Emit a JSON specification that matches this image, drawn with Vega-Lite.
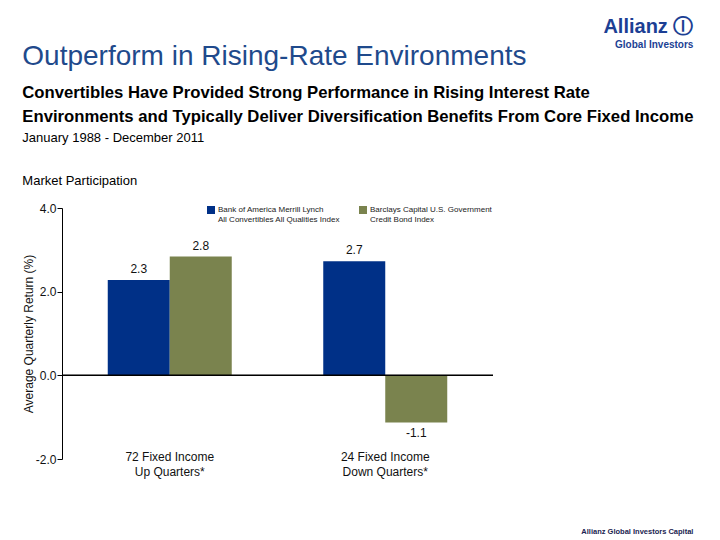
{
  "$schema": "https://vega.github.io/schema/vega-lite/v6.json",
  "padding": {"left": 22, "top": 17, "right": 22, "bottom": 2},
  "background": "white",
  "config": {
    "font": "Liberation Sans",
    "view": {"stroke": null},
    "concat": {"spacing": 0},
    "locale": {
      "number": {"decimal": ".", "thousands": ",", "grouping": [3], "currency": ["$", ""], "minus": "-"}
    }
  },
  "title": {
    "text": "Allianz Global Investors Capital",
    "orient": "bottom",
    "anchor": "end",
    "fontSize": 7.5,
    "fontWeight": "bold",
    "color": "#1a2350",
    "offset": 51
  },
  "vconcat": [
    {
      "title": {
        "text": "Allianz Ⓘ",
        "subtitle": "Global Investors",
        "anchor": "end",
        "fontSize": 20,
        "fontWeight": "bold",
        "color": "#1c3f94",
        "subtitleFontSize": 10,
        "subtitleFontWeight": "bold",
        "subtitleColor": "#1c3f94",
        "subtitlePadding": 3,
        "offset": -7
      },
      "vconcat": [
        {
          "title": {
            "text": "Outperform in Rising-Rate Environments",
            "subtitle": [
              "Convertibles Have Provided Strong Performance in Rising Interest Rate",
              "Environments and Typically Deliver Diversification Benefits From Core Fixed Income"
            ],
            "anchor": "start",
            "fontSize": 28,
            "fontWeight": "normal",
            "color": "#1f4a8c",
            "subtitleFontSize": 16.7,
            "subtitleFontWeight": "bold",
            "subtitleColor": "#000000",
            "subtitleLineHeight": 24,
            "subtitlePadding": 14,
            "offset": 6
          },
          "vconcat": [
            {
              "title": {
                "text": "January 1988 - December 2011",
                "subtitle": "Market Participation",
                "anchor": "start",
                "fontSize": 13,
                "fontWeight": "normal",
                "color": "#000000",
                "subtitleFontSize": 13,
                "subtitleColor": "#000000",
                "subtitlePadding": 30,
                "offset": 14,
                "frame": "bounds"
              },
              "width": 431,
              "height": 251,
              "data": {
                "values": [
                  {"group": "72 Fixed Income|Up Quarters*", "series": "Bank of America Merrill Lynch|All Convertibles All Qualities Index", "value": 2.28},
                  {"group": "72 Fixed Income|Up Quarters*", "series": "Barclays Capital U.S. Government|Credit Bond Index", "value": 2.84},
                  {"group": "24 Fixed Income|Down Quarters*", "series": "Bank of America Merrill Lynch|All Convertibles All Qualities Index", "value": 2.73},
                  {"group": "24 Fixed Income|Down Quarters*", "series": "Barclays Capital U.S. Government|Credit Bond Index", "value": -1.13}
                ]
              },
              "encoding": {
                "x": {
                  "field": "group",
                  "type": "nominal",
                  "sort": null,
                  "scale": {"paddingInner": 0.4246, "paddingOuter": 0.2123},
                  "axis": {
                    "title": null,
                    "labelExpr": "split(datum.label, '|')",
                    "labelAngle": 0,
                    "labelFontSize": 12,
                    "labelColor": "#111111",
                    "labelLineHeight": 15,
                    "labelPadding": -8,
                    "ticks": false,
                    "domain": false
                  }
                },
                "xOffset": {"field": "series", "type": "nominal", "sort": null},
                "y": {
                  "field": "value",
                  "type": "quantitative",
                  "scale": {"domain": [-2, 4], "nice": false},
                  "axis": {
                    "title": "Average Quarterly Return (%)",
                    "titleFontSize": 12,
                    "titleFontWeight": "normal",
                    "titleColor": "#111111",
                    "titlePadding": 0,
                    "values": [-2, 0, 2, 4],
                    "format": ".1f",
                    "labelExpr": "replace(datum.label, '\u2212', '-')",
                    "labelFontSize": 12,
                    "labelColor": "#111111",
                    "labelPadding": 1,
                    "tickSize": 5,
                    "tickColor": "#000000",
                    "domainColor": "#000000",
                    "grid": false
                  }
                }
              },
              "layer": [
                {
                  "mark": {"type": "bar"},
                  "encoding": {
                    "color": {
                      "field": "series",
                      "type": "nominal",
                      "sort": null,
                      "scale": {"range": ["#003087", "#7a834e"]},
                      "legend": {
                        "title": null,
                        "orient": "none",
                        "legendX": 145,
                        "legendY": -2,
                        "direction": "horizontal",
                        "columns": 2,
                        "columnPadding": 19,
                        "symbolType": "square",
                        "symbolSize": 64,
                        "symbolStrokeWidth": 0,
                        "symbolOpacity": 1,
                        "labelExpr": "split(datum.label, '|')",
                        "labelFontSize": 8,
                        "labelColor": "#222222",
                        "labelLineHeight": 10,
                        "labelLimit": 0,
                        "labelOffset": 3
                      }
                    }
                  }
                },
                {
                  "transform": [{"filter": "datum.value >= 0"}],
                  "mark": {"type": "text", "baseline": "bottom", "dy": -4, "fontSize": 12, "color": "#111111"},
                  "encoding": {"text": {"field": "value", "type": "quantitative", "format": ".1f"}}
                },
                {
                  "transform": [{"filter": "datum.value < 0"}],
                  "mark": {"type": "text", "baseline": "top", "dy": 5, "fontSize": 12, "color": "#111111"},
                  "encoding": {"text": {"field": "value", "type": "quantitative", "format": ".1f"}}
                },
                {
                  "mark": {"type": "rule", "color": "#000000", "strokeWidth": 1},
                  "encoding": {"y": {"datum": 0}, "x": null, "xOffset": null}
                }
              ]
            }
          ]
        }
      ]
    }
  ]
}
